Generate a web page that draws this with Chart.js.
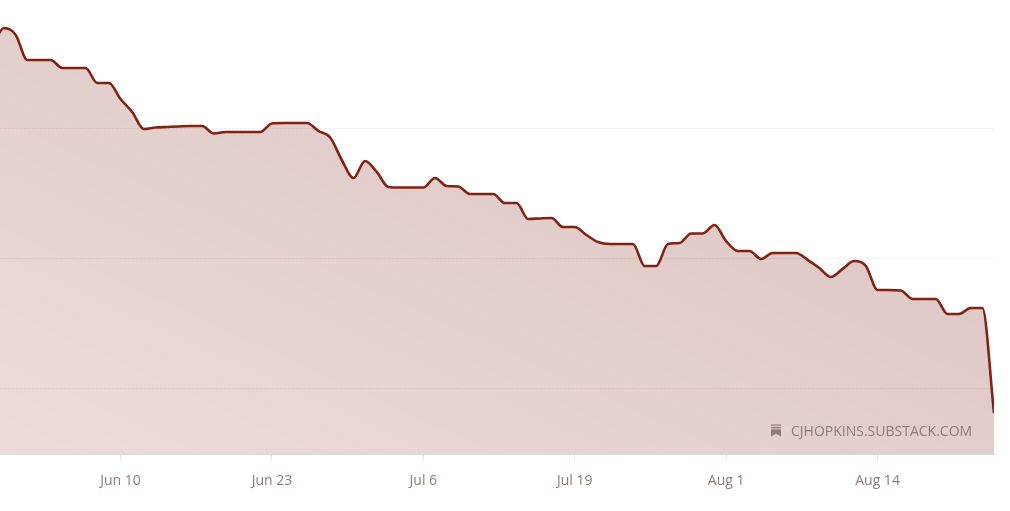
<!DOCTYPE html>
<html>
<head>
<meta charset="utf-8">
<style>
  html, body { margin: 0; padding: 0; background: #fff; }
  #wrap { position: relative; width: 1010px; height: 511px; overflow: hidden; }
  #mark {
    position: absolute; left: 771px; top: 420px; height: 20px;
    display: flex; align-items: center; gap: 10px;
    font: 14px "Open Sans", sans-serif; color: #8f7b78; white-space: nowrap;
  }
</style>
<script src="https://cdn.jsdelivr.net/npm/chart.js@4"></script>
</head>
<body>
<div id="wrap">
  <canvas id="chart" width="1010" height="511"></canvas>
  <div id="mark">
    <svg width="10" height="13" viewBox="0 0 11 13"><path fill="#8f7b78" d="M0 0h11v1.3H0zM0 2.6h11v1.3H0zM0 5.2h11V13L5.5 10 0 13z"/></svg>
    <span>CJHOPKINS.SUBSTACK.COM</span>
  </div>
</div>
<script>
// --- DATA ---
const dates = [
  "May 30", "May 31", "Jun 1", "Jun 2", "Jun 3", "Jun 4", "Jun 5", "Jun 6", "Jun 7", "Jun 8", "Jun 9",
  "Jun 10", "Jun 11", "Jun 12", "Jun 13", "Jun 14", "Jun 15", "Jun 16", "Jun 17", "Jun 18", "Jun 19",
  "Jun 20", "Jun 21", "Jun 22", "Jun 23", "Jun 24", "Jun 25", "Jun 26", "Jun 27", "Jun 28", "Jun 29",
  "Jun 30", "Jul 1", "Jul 2", "Jul 3", "Jul 4", "Jul 5", "Jul 6", "Jul 7", "Jul 8", "Jul 9",
  "Jul 10", "Jul 11", "Jul 12", "Jul 13", "Jul 14", "Jul 15", "Jul 16", "Jul 17", "Jul 18", "Jul 19",
  "Jul 20", "Jul 21", "Jul 22", "Jul 23", "Jul 24", "Jul 25", "Jul 26", "Jul 27", "Jul 28", "Jul 29",
  "Jul 30", "Jul 31", "Aug 1", "Aug 2", "Aug 3", "Aug 4", "Aug 5", "Aug 6", "Aug 7", "Aug 8",
  "Aug 9", "Aug 10", "Aug 11", "Aug 12", "Aug 13", "Aug 14", "Aug 15", "Aug 16", "Aug 17", "Aug 18",
  "Aug 19", "Aug 20", "Aug 21", "Aug 22", "Aug 23", "Aug 24"
];

// no y axis labels in the picture, so these are relative units
const values = [
  363.6, 376.6, 371.3, 352.1, 352.1, 352.1, 346.0, 346.0, 346.0, 334.5, 334.5,
  322.2, 312.3, 299.2, 300.4, 300.8, 301.2, 301.5, 301.5, 295.8, 296.9,
  296.9, 296.9, 296.9, 303.5, 303.8, 303.8, 303.8, 297.7, 292.7, 275.5,
  261.7, 274.7, 266.3, 254.8, 254.4, 254.4, 254.4, 261.7, 255.6, 255.2,
  249.4, 249.4, 249.4, 242.5, 242.5, 230.3, 230.7, 231.0, 224.1, 224.1,
  218.0, 212.6, 211.1, 211.1, 211.1, 194.3, 194.3, 211.1, 211.9, 219.2,
  219.2, 225.7, 213.4, 205.8, 205.8, 199.6, 204.2, 204.2, 204.2, 198.9,
  192.7, 185.8, 192.0, 198.1, 194.3, 175.9, 175.9, 175.5, 169.0, 169.0,
  169.0, 157.5, 157.5, 162.1, 162.1, 81.6
];

const tickDates = ["Jun 10", "Jun 23", "Jul 6", "Jul 19", "Aug 1", "Aug 14"];
const gridValues = [100, 200, 300];

// --- CHART ---
// same bands as a css "to top right" gradient: top left and bottom right corners get the mid colour
const fillGradient = (context) => {
  const area = context.chart.chartArea;
  if (!area) return "rgba(127, 35, 21, 0.2)";
  const w = area.right - area.left;
  const h = area.bottom - area.top;
  const cx = area.left + w / 2;
  const cy = area.top + h / 2;
  const k = (w * h) / (w * w + h * h);
  const g = context.chart.ctx.createLinearGradient(cx - h * k, cy + w * k, cx + h * k, cy - w * k);
  g.addColorStop(0, "rgba(127, 35, 21, 0.155)");
  g.addColorStop(1, "rgba(127, 35, 21, 0.29)");
  return g;
};

new Chart(document.getElementById("chart"), {
  type: "line",
  data: {
    datasets: [{
      data: values.map((v, i) => ({ x: i, y: v })),
      borderColor: "#7f2315",
      borderWidth: 2.6,
      backgroundColor: fillGradient,
      fill: "start",
      pointRadius: 0,
      cubicInterpolationMode: "monotone"
    }]
  },
  options: {
    responsive: false,
    animation: false,
    layout: { padding: { left: 0, right: 16, top: 0, bottom: 0 } },
    plugins: { legend: { display: false }, tooltip: { enabled: false } },
    scales: {
      x: {
        type: "linear",
        min: 0.65,
        max: 86,
        afterFit: (scale) => { scale.height = 56.5; },
        afterBuildTicks: (scale) => {
          scale.ticks = tickDates.map(d => ({ value: dates.indexOf(d) }));
        },
        grid: { drawOnChartArea: false, tickLength: 5, tickColor: "#e4e0df" },
        border: { color: "#e0dcdb" },
        ticks: {
          autoSkip: false,
          maxRotation: 0,
          padding: 13,
          color: "#8f7b78",
          font: { family: "Open Sans", size: 14 },
          callback: (v) => dates[v]
        }
      },
      y: {
        min: 49.8,
        max: 398.1,
        afterFit: (scale) => { scale.width = 0; },
        afterBuildTicks: (scale) => {
          scale.ticks = gridValues.map(v => ({ value: v }));
        },
        grid: { color: "rgba(110, 80, 70, 0.08)", drawTicks: false },
        border: { display: false, dash: [3, 1] },
        ticks: { display: false }
      }
    }
  }
});
</script>
</body>
</html>
